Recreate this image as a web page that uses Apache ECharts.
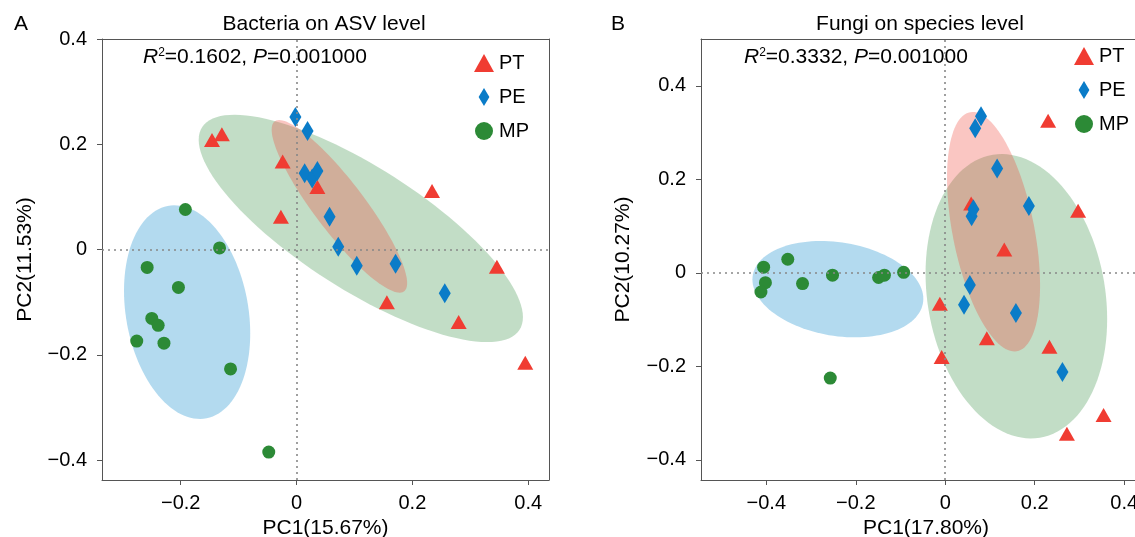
<!DOCTYPE html>
<html>
<head>
<meta charset="utf-8">
<script src="https://cdn.jsdelivr.net/npm/echarts@6/dist/echarts.min.js"></script>
<style>
  html, body { margin: 0; padding: 0; background: #fff; }
  #container { width: 1135px; height: 537px; }
</style>
</head>
<body>
<div id="container"></div>
<script>
// ---- panel A: bacteria (ASV level) ----
var ptA = [[-0.146, 0.208], [-0.129, 0.219], [-0.024, 0.167], [0.036, 0.119], [-0.027, 0.062],
           [0.234, 0.111], [0.156, -0.100], [0.280, -0.138], [0.395, -0.215], [0.346, -0.033]];
var peA = [[-0.002, 0.252], [0.019, 0.225], [0.014, 0.145], [0.027, 0.135], [0.036, 0.149],
           [0.057, 0.062], [0.072, 0.005], [0.104, -0.031], [0.171, -0.027], [0.256, -0.083]];
var mpA = [[-0.192, 0.076], [-0.133, 0.003], [-0.258, -0.034], [-0.204, -0.072], [-0.250, -0.131],
           [-0.239, -0.144], [-0.276, -0.174], [-0.229, -0.178], [-0.114, -0.227], [-0.048, -0.385]];
// ellipses: [cx, cy, rx, ry, corr]
var ellA = [[-0.189, -0.119, 0.109, 0.203, -0.2],
            [0.111, 0.040, 0.280, 0.216, -0.78],
            [0.074, 0.082, 0.117, 0.164, -0.889]];

// ---- panel B: fungi (species level) ----
var ptB = [[0.230, 0.325], [0.058, 0.148], [0.297, 0.133], [0.132, 0.050], [-0.012, -0.066],
           [0.093, -0.140], [-0.008, -0.180], [0.233, -0.158], [0.354, -0.304], [0.272, -0.344]];
var peB = [[0.080, 0.335], [0.067, 0.309], [0.116, 0.223], [0.187, 0.143], [0.059, 0.121],
           [0.063, 0.136], [0.055, -0.026], [0.042, -0.068], [0.158, -0.086], [0.262, -0.212]];
var mpB = [[-0.406, 0.012], [-0.352, 0.029], [-0.402, -0.021], [-0.412, -0.041], [-0.319, -0.023],
           [-0.252, -0.005], [-0.149, -0.010], [-0.136, -0.005], [-0.093, 0.001], [-0.257, -0.225]];
var ellB = [[-0.240, -0.035, 0.191, 0.103, -0.2],
            [0.159, -0.050, 0.203, 0.304, -0.16],
            [0.108, 0.088, 0.104, 0.256, -0.45]];

var xTicksA = [-0.2, 0, 0.2, 0.4];
var xTicksB = [-0.4, -0.2, 0, 0.2, 0.4];
var yTicks = [-0.4, -0.2, 0, 0.2, 0.4];

var groups = ['PT', 'PE', 'MP'];
var colors = { PT: '#F03C32', PE: '#0A7CC8', MP: '#2C8A36' };
var ellFill = ['rgba(19,140,204,0.32)', 'rgba(46,139,58,0.29)', 'rgba(240,65,52,0.30)'];

var font = 'Liberation Sans, Arial, sans-serif';
var axisGray = '#555';

function fmt(v) {
    return v === 0 ? '0' : String(v).replace('-', '\u2212');
}

function xAxisOf(idx, lim, ticks, name) {
    return {
        type: 'value', gridIndex: idx, min: lim[0], max: lim[1], position: 'bottom',
        name: name, nameLocation: 'middle', nameGap: 36,
        nameTextStyle: { fontSize: 21, color: '#000', fontFamily: font },
        axisLine: { onZero: false, lineStyle: { color: axisGray, width: 1 } },
        axisTick: { customValues: ticks, length: 5, lineStyle: { color: axisGray } },
        axisLabel: { customValues: ticks, formatter: fmt, margin: 13, fontSize: 20, color: '#000', fontFamily: font },
        splitLine: { show: false }
    };
}
function yAxisOf(idx, lim, ticks, name, gap) {
    return {
        type: 'value', gridIndex: idx, min: lim[0], max: lim[1], position: 'left',
        name: name, nameLocation: 'middle', nameGap: gap,
        nameTextStyle: { fontSize: 21, color: '#000', fontFamily: font },
        axisLine: { onZero: false, lineStyle: { color: axisGray, width: 1 } },
        axisTick: { customValues: ticks, length: 5, lineStyle: { color: axisGray } },
        axisLabel: { customValues: ticks, formatter: fmt, margin: 15, fontSize: 20, color: '#000', fontFamily: font },
        splitLine: { show: false }
    };
}
// plain frame lines (top / right) without ticks or labels
function frameAxis(idx, lim, pos) {
    return {
        type: 'value', gridIndex: idx, min: lim[0], max: lim[1], position: pos,
        axisLine: { onZero: false, lineStyle: { color: axisGray, width: 1 } },
        axisTick: { show: false }, axisLabel: { show: false }, splitLine: { show: false }
    };
}

function renderEllipse(params, api) {
    var cx = api.value(0), cy = api.value(1), rx = api.value(2), ry = api.value(3), r = api.value(4);
    var s = Math.sqrt(1 - r * r);
    var pts = [];
    for (var k = 0; k < 120; k++) {
        var t = k / 120 * Math.PI * 2;
        pts.push(api.coord([cx + rx * Math.cos(t), cy + ry * (r * Math.cos(t) + s * Math.sin(t))]));
    }
    return {
        type: 'polygon',
        shape: { points: pts },
        style: { fill: ellFill[params.dataIndex], stroke: null }
    };
}

var zeroLine = {
    silent: true, symbol: 'none', label: { show: false },
    lineStyle: { color: '#888', type: [2, 4], width: 1.6 },
    emphasis: { disabled: true },
    data: [{ xAxis: 0 }, { yAxis: 0 }]
};

var symbols = { PT: 'triangle', PE: 'diamond', MP: 'circle' };
var sizes = { PT: [16, 14], PE: [12, 20], MP: 13 };

function panelSeries(idx, ell, sets) {
    var out = [{
        type: 'custom', xAxisIndex: idx, yAxisIndex: idx, z: 1, silent: true,
        renderItem: renderEllipse, data: ell, clip: true
    }, {
        type: 'scatter', xAxisIndex: idx, yAxisIndex: idx, z: 2, data: [],
        markLine: zeroLine
    }];
    groups.forEach(function (g) {
        out.push({
            name: g, type: 'scatter', xAxisIndex: idx, yAxisIndex: idx, z: 3,
            symbol: symbols[g], symbolSize: sizes[g],
            itemStyle: { color: colors[g], opacity: 1 },
            data: sets[g]
        });
    });
    return out;
}

function legendOf(left, top) {
    return {
        data: [{ name: 'PT' }, { name: 'PE', icon: 'path://M6,0 L12,10 L6,20 L0,10 Z' }, { name: 'MP' }],
        orient: 'vertical', left: left, top: top, padding: 0,
        itemWidth: 20, itemHeight: 18, itemGap: 14, selectedMode: false,
        textStyle: { fontSize: 20, color: '#000', fontFamily: font }
    };
}

function stat(x, r2) {
    return {
        type: 'text', x: x, y: 57,
        style: {
            text: '{i|R}{s|2}{n|=' + r2 + ', }{i|P}{n|=0.001000}',
            verticalAlign: 'middle',
            rich: {
                i: { fontSize: 21, fontStyle: 'italic', fontFamily: font, fill: '#000' },
                s: { fontSize: 12, fontFamily: font, fill: '#000', verticalAlign: 'top', padding: [0, 0, 9, 0] },
                n: { fontSize: 21, fontFamily: font, fill: '#000' }
            }
        }
    };
}
function label(x, y, text, size) {
    return {
        type: 'text', x: x, y: y,
        style: { text: text, fontSize: size, fontFamily: font, fill: '#000', align: 'center', verticalAlign: 'middle' }
    };
}

var limXA = [-0.336, 0.436], limYA = [-0.438, 0.4];
var limXB = [-0.546, 0.46], limYB = [-0.443, 0.5];

var chart = echarts.init(document.getElementById('container'));
var option = {
    animation: false,
    grid: [
        { left: 102, top: 39, width: 447, height: 441, outerBoundsMode: 'none' },
        { left: 701, top: 39, width: 450, height: 441, outerBoundsMode: 'none' }
    ],
    xAxis: [
        xAxisOf(0, limXA, xTicksA, 'PC1(15.67%)'),
        xAxisOf(1, limXB, xTicksB, 'PC1(17.80%)'),
        frameAxis(0, limXA, 'top'),
        frameAxis(1, limXB, 'top')
    ],
    yAxis: [
        yAxisOf(0, limYA, yTicks, 'PC2(11.53%)', 66),
        yAxisOf(1, limYB, yTicks, 'PC2(10.27%)', 67),
        frameAxis(0, limYA, 'right')
    ],
    legend: [legendOf(474, 53), legendOf(1074, 46)],
    graphic: [
        label(21, 24, 'A', 21), label(618, 24, 'B', 21),
        label(324, 24, 'Bacteria on ASV level', 21),
        label(920, 24, 'Fungi on species level', 21),
        stat(143, '0.1602'), stat(744, '0.3332')
    ],
    series: panelSeries(0, ellA, { PT: ptA, PE: peA, MP: mpA })
        .concat(panelSeries(1, ellB, { PT: ptB, PE: peB, MP: mpB }))
};
chart.setOption(option);
</script>
</body>
</html>
